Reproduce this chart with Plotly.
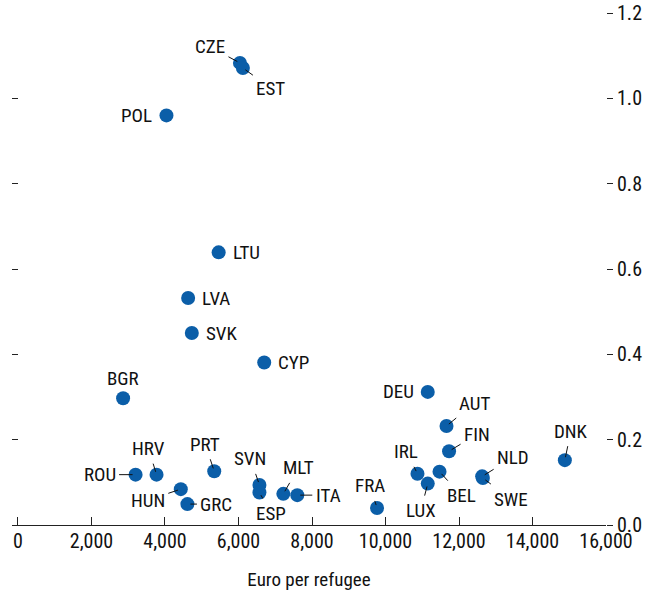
import plotly.graph_objects as go

countries = ["CZE", "EST", "POL", "LTU", "LVA", "SVK", "CYP", "BGR", "ROU", "HRV",
             "HUN", "GRC", "PRT", "SVN", "ESP", "MLT", "ITA", "FRA", "DEU", "AUT",
             "FIN", "IRL", "BEL", "LUX", "NLD", "SWE", "DNK"]
euro_per_refugee = [6040, 6120, 4040, 5460, 4630, 4730, 6700, 2860, 3200, 3770,
                    4430, 4610, 5340, 6570, 6570, 7220, 7600, 9770, 11150, 11660,
                    11730, 10870, 11470, 11150, 12630, 12650, 14880]
share_gdp = [1.083, 1.071, 0.960, 0.639, 0.532, 0.450, 0.381, 0.297, 0.118, 0.118,
             0.084, 0.049, 0.126, 0.094, 0.076, 0.073, 0.070, 0.040, 0.312, 0.232,
             0.173, 0.120, 0.125, 0.097, 0.114, 0.110, 0.152]

x_ticks = list(range(0, 16001, 2000))
y_ticks = [0.0, 0.2, 0.4, 0.6, 0.8, 1.0, 1.2]

# label placement: (kind, dx, dy) in pixels; kind "arrow" = leader line, else side label
label_pos = {
    "CZE": ("arrow", -30, -16), "EST": ("arrow", 28, 20),
    "POL": ("left", -12, 0), "LTU": ("right", 12, 0), "LVA": ("right", 12, 0),
    "SVK": ("right", 12, 0), "CYP": ("right", 12, 0), "BGR": ("above", 0, 20),
    "DEU": ("left", -12, 0),
    "ROU": ("arrow", -36, 0), "HRV": ("arrow", -8, -26), "HUN": ("arrow", -33, 11),
    "GRC": ("arrow", 29, 0), "PRT": ("arrow", -9, -27), "SVN": ("arrow", -9, -26),
    "ESP": ("arrow", 12, 21), "MLT": ("arrow", 15, -26), "ITA": ("arrow", 31, 0),
    "FRA": ("arrow", -7, -22), "AUT": ("arrow", 28, -23), "FIN": ("arrow", 28, -17),
    "IRL": ("arrow", -11, -22), "BEL": ("arrow", 22, 24), "LUX": ("arrow", -7, 27),
    "NLD": ("arrow", 31, -19), "SWE": ("arrow", 28, 21), "DNK": ("arrow", 6, -29),
}

FONT = "Roboto Condensed, Roboto, Arial, sans-serif"
BLUE = "#0B5EA8"

fig = go.Figure()
fig.add_trace(go.Scatter(
    x=euro_per_refugee, y=share_gdp, mode="markers",
    marker=dict(size=14, color=BLUE, line=dict(width=0)),
    xaxis="x", yaxis="y", hoverinfo="skip", showlegend=False,
))
# invisible trace for the left tick-only axis
fig.add_trace(go.Scatter(x=[0], y=[0], mode="markers", marker=dict(opacity=0),
                         xaxis="x", yaxis="y2", hoverinfo="skip", showlegend=False))

annotations = []
for c, xv, yv in zip(countries, euro_per_refugee, share_gdp):
    kind, dx, dy = label_pos[c]
    a = dict(x=xv, y=yv, xref="x", yref="y", text=c,
             font=dict(family=FONT, size=19, color="#111"))
    if kind == "arrow":
        a.update(showarrow=True, arrowhead=0, arrowwidth=1, arrowcolor="#111",
                 ax=dx, ay=dy, standoff=3, borderpad=3)
    else:
        a.update(showarrow=False, xshift=dx, yshift=dy,
                 xanchor={"left": "right", "right": "left", "above": "center"}[kind],
                 yanchor="middle")
    annotations.append(a)

fig.update_layout(
    width=656, height=592,
    margin=dict(l=12, r=50, t=13, b=67),
    paper_bgcolor="white", plot_bgcolor="white",
    font=dict(family=FONT, size=19, color="#111"),
    annotations=annotations,
    xaxis=dict(range=[-163, 16000], tickvals=x_ticks, tickformat=",",
               ticks="inside", ticklen=8, tickwidth=1.2, tickcolor="#222",
               showline=True, linecolor="#222", linewidth=1.2,
               showgrid=False, zeroline=False, automargin=False,
               ticklabelstandoff=-2, tickfont=dict(family=FONT, size=20),
               title=dict(text="Euro per refugee", standoff=20,
                          font=dict(family=FONT, size=19))),
    yaxis=dict(range=[0, 1.2], tickvals=y_ticks, tickformat=".1f", side="right",
               ticks="outside", ticklen=6, tickwidth=1, tickcolor="#222",
               tickfont=dict(family=FONT, size=20), ticklabeloverflow="allow",
               showline=False, showgrid=False, zeroline=False, automargin=False),
    yaxis2=dict(range=[-0.0005, 1.2005], tickvals=y_ticks, overlaying="y", side="left",
                ticks="inside", ticklen=6, tickwidth=1, tickcolor="#222",
                showticklabels=False, showline=False, showgrid=False, zeroline=False,
                automargin=False),
)

fig.write_html("out.html", config={"displayModeBar": False},
               post_script="document.body.style.margin='0';document.body.style.overflow='hidden';")
